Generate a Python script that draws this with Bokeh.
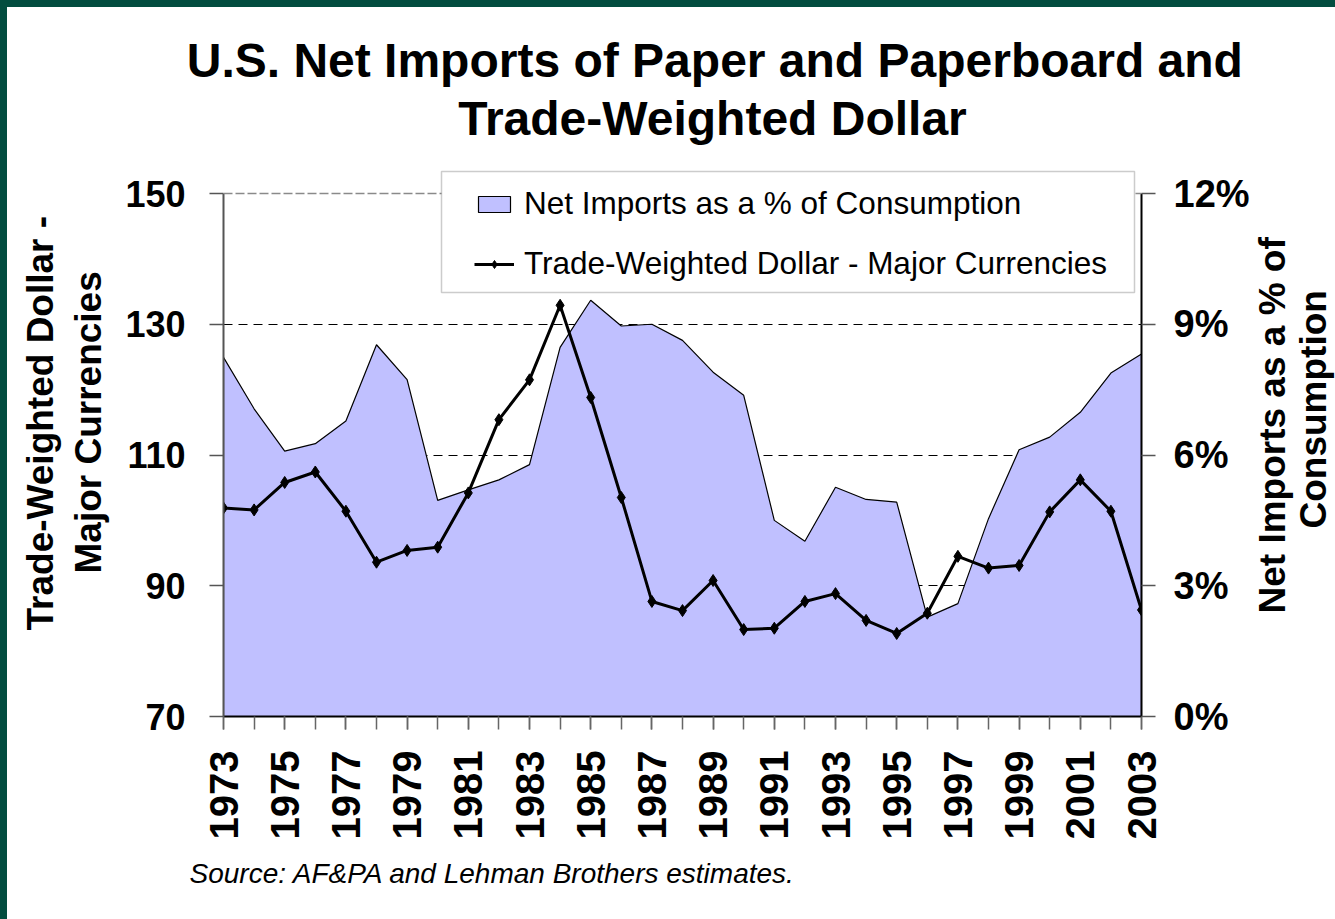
import math
from bokeh.plotting import figure
from bokeh.layouts import row, column
from bokeh.models import (Range1d, LinearAxis, FixedTicker, PrintfTickFormatter, Label, Title,
                          Legend, LegendItem, Span, BoxAnnotation, ColumnDataSource)
from bokeh.embed import file_html
from bokeh.resources import INLINE

# ---------------- data ----------------
years = [1973, 1974, 1975, 1976, 1977, 1978, 1979, 1980, 1981, 1982, 1983, 1984, 1985,
         1986, 1987, 1988, 1989, 1990, 1991, 1992, 1993, 1994, 1995, 1996, 1997, 1998,
         1999, 2000, 2001, 2002, 2003]
net_imports_pct = [8.24, 7.06, 6.09, 6.26, 6.78, 8.53, 7.73, 4.96, 5.20, 5.43, 5.78, 8.47,
                   9.55, 8.96, 9.00, 8.63, 7.90, 7.37, 4.50, 4.02, 5.26, 4.98, 4.92, 2.28,
                   2.59, 4.54, 6.12, 6.41, 6.98, 7.88, 8.32]
dollar_index = [101.9, 101.6, 105.8, 107.4, 101.4, 93.6, 95.4, 95.9, 104.2, 115.4, 121.5,
                132.9, 118.8, 103.5, 87.6, 86.2, 90.8, 83.3, 83.5, 87.6, 88.8, 84.7, 82.7,
                85.8, 94.5, 92.7, 93.1, 101.3, 106.2, 101.4, 86.3]
left_ticks = [70, 90, 110, 130, 150]
right_ticks = [0, 3, 6, 9, 12]
year_labels = years[::2]

title_lines = ["U.S. Net Imports of  Paper and Paperboard and", "Trade-Weighted Dollar"]
left_title = ["Trade-Weighted Dollar -", "Major Currencies"]
right_title = ["Net Imports as a % of", "Consumption"]
series_names = ["Net Imports as a % of Consumption", "Trade-Weighted Dollar - Major Currencies"]
source_note = "Source: AF&PA and Lehman Brothers estimates."

FONT = "Liberation Sans"

# ---------------- layout (page pixels) ----------------
OFF = 7                       # green band on top / left
PAGE_W, PAGE_H = 1335, 919
TOP_H = 150                   # title strip: page y 7..157
ROW_TOP = OFF + TOP_H
AX_LEFT, AX_RIGHT = 223, 1141
AX_TOP, AX_BOTTOM = 193, 716
MB_LEFT, MB_RIGHT = 104, 112
MAIN_X0 = AX_LEFT - MB_LEFT
MAIN_X1 = AX_RIGHT + MB_RIGHT
ROW_H = PAGE_H - ROW_TOP
ax_h = AX_BOTTOM - AX_TOP

l0, l1 = left_ticks[0], left_ticks[-1]
r0, r1 = right_ticks[0], right_ticks[-1]
left_top = l1 + (l1 - l0) * (AX_TOP - ROW_TOP) / ax_h
right_top = r1 + (r1 - r0) * (AX_TOP - ROW_TOP) / ax_h


def blank(w, h):
    f = figure(width=w, height=h, output_backend="svg", toolbar_location=None,
               x_axis_type=None, y_axis_type=None, x_range=Range1d(0, 1), y_range=Range1d(0, 1),
               min_border=0, outline_line_color=None, title=None,
               background_fill_color="white", border_fill_color="white")
    return f


def lab(fig, text, x, y, size, angle=0.0, align="center", style="bold"):
    fig.add_layout(Label(x=x, y=y, x_units="screen", y_units="screen", text=text, angle=angle,
                         text_align=align, text_baseline="middle", text_font=FONT,
                         text_font_size=f"{size}px", text_font_style=style,
                         text_color="black"))


# ---- title strip ----
top_fig = blank(PAGE_W - OFF, TOP_H)
TS = 48
for txt, cx, base in [(title_lines[0], 721, 77), (title_lines[1], 712, 135)]:
    lab(top_fig, txt, cx - OFF, ROW_TOP - (base - 0.3465 * TS), TS)

# ---- side strips: their frames are aligned with the chart frame (bottom at AX_BOTTOM) ----
left_fig = blank(MAIN_X0 - OFF, ROW_H)
lab(left_fig, left_title[0], 40 - OFF, AX_BOTTOM - 630, 37, angle=math.pi / 2, align="left")
lab(left_fig, left_title[1], 88 - OFF, AX_BOTTOM - 573, 37, angle=math.pi / 2, align="left")

right_fig = blank(PAGE_W - MAIN_X1, ROW_H)
lab(right_fig, right_title[0], 1272 - MAIN_X1, AX_BOTTOM - 613, 37, angle=math.pi / 2, align="left")
lab(right_fig, right_title[1], 1313 - MAIN_X1, AX_BOTTOM - 528, 37, angle=math.pi / 2, align="left")

# ---- main chart ----
p = figure(width=MAIN_X1 - MAIN_X0, height=ROW_H, output_backend="svg", toolbar_location=None,
           x_range=Range1d(years[0], years[-1]), y_range=Range1d(l0, left_top),
           min_border_left=MB_LEFT, min_border_right=MB_RIGHT,
           min_border_top=0, min_border_bottom=PAGE_H - AX_BOTTOM,
           background_fill_color="white", border_fill_color="white",
           outline_line_color=None, title=None)
p.extra_y_ranges = {"pct": Range1d(r0, right_top)}

xa = p.xaxis[0]
xa.ticker = FixedTicker(ticks=year_labels, minor_ticks=years)
xa.major_tick_in = 0
xa.major_tick_out = 13
xa.minor_tick_in = 0
xa.minor_tick_out = 13
xa.major_tick_line_color = "#666666"
xa.minor_tick_line_color = "#666666"
xa.major_tick_line_width = 1.5
xa.minor_tick_line_width = 1.5
xa.axis_line_color = "black"
xa.axis_line_width = 2
xa.major_label_orientation = math.pi / 2
xa.major_label_standoff = 21
xa.major_label_text_font = FONT
xa.major_label_text_font_style = "bold"
xa.major_label_text_font_size = "40px"
xa.major_label_text_color = "black"

ya = p.yaxis[0]
ya.bounds = (l0, l1)
ya.ticker = FixedTicker(ticks=left_ticks)
ya.major_tick_in = 0
ya.major_tick_out = 14
ya.minor_tick_out = 0
ya.minor_tick_in = 0
ya.major_tick_line_color = "#555555"
ya.major_tick_line_width = 1.5
ya.axis_line_color = "#555555"
ya.axis_line_width = 2
ya.major_label_standoff = 24
ya.major_label_text_font = FONT
ya.major_label_text_font_style = "bold"
ya.major_label_text_font_size = "36px"
ya.major_label_text_color = "black"

ra = LinearAxis(y_range_name="pct", bounds=(r0, r1), ticker=FixedTicker(ticks=right_ticks),
                formatter=PrintfTickFormatter(format="%d%%"))
ra.major_tick_in = 0
ra.major_tick_out = 14
ra.minor_tick_out = 0
ra.minor_tick_in = 0
ra.major_tick_line_color = "#555555"
ra.major_tick_line_width = 1.5
ra.axis_line_color = "black"
ra.axis_line_width = 2
ra.major_label_standoff = 18
ra.major_label_text_font = FONT
ra.major_label_text_font_style = "bold"
ra.major_label_text_font_size = "38px"
ra.major_label_text_color = "black"
p.add_layout(ra, "right")

p.xgrid.visible = False
p.ygrid[0].ticker = FixedTicker(ticks=left_ticks[1:-1])
p.ygrid.grid_line_color = "black"
p.ygrid.grid_line_dash = "9 6"
p.ygrid.grid_line_width = 1

area_x = [years[0]] + years + [years[-1]]
area_y = [0] + net_imports_pct + [0]
area = p.patch(x=area_x, y=area_y, y_range_name="pct", fill_color="#C0C0FF",
               line_color="black", line_width=1.2)

src = ColumnDataSource(dict(year=years, dollar=dollar_index))
ln = p.line("year", "dollar", source=src, line_color="black", line_width=3)
mk = p.scatter("year", "dollar", source=src, marker="diamond", size=12,
               fill_color="black", line_color="black")

p.add_layout(Span(location=l1, dimension="width", line_color="#8a8a8a",
                  line_width=1.5, line_dash="9 3"))

p.add_layout(BoxAnnotation(left=441 - AX_LEFT, right=1134 - AX_LEFT,
                           top=AX_BOTTOM - 171, bottom=AX_BOTTOM - 292,
                           left_units="screen", right_units="screen",
                           top_units="screen", bottom_units="screen",
                           fill_color="white", fill_alpha=1.0, line_color="#555555",
                           line_width=1.5, level="annotation"))

legend = Legend(items=[LegendItem(label=series_names[0], renderers=[area]),
                       LegendItem(label=series_names[1], renderers=[ln, mk])],
                location=(474 - AX_LEFT, 434), padding=0, margin=0, border_line_color=None,
                background_fill_alpha=0, glyph_width=40, glyph_height=20, label_standoff=10,
                spacing=23, label_height=36, label_text_font=FONT,
                label_text_font_size="31.5px", label_text_color="black")
p.add_layout(legend)

p.add_layout(Title(text=source_note, align="left", offset=189 - AX_LEFT, standoff=27,
                   text_font=FONT, text_font_style="italic", text_font_size="28px",
                   text_color="black"), "below")

layout = column(top_fig, row(left_fig, p, right_fig, spacing=0), spacing=0)
layout.margin = (OFF, 0, 0, OFF)
layout.styles = {"box-shadow": "0 0 0 8px #034D3F"}

open("out.html", "w").write(file_html(layout, INLINE))
